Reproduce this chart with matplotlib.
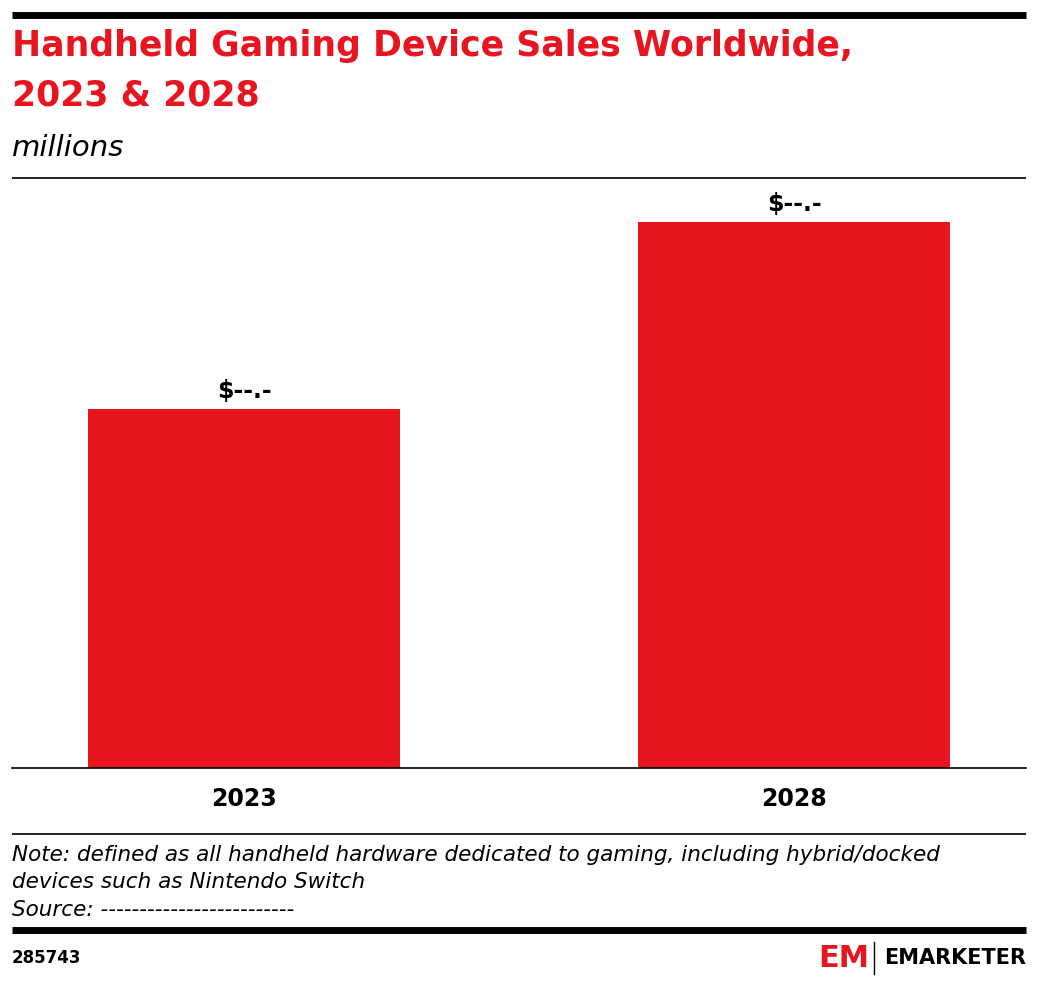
import matplotlib
matplotlib.use("Agg")
import matplotlib.pyplot as plt
from matplotlib.lines import Line2D

categories = ["2023", "2028"]
values = [359, 546]
labels = ["$--.-", "$--.-"]

W, H = 1038, 988
RED = "#e8141e"
fig = plt.figure(figsize=(W/100, H/100), dpi=100)
def fx(x): return x / W
def fy(y): return 1 - y / H

def hline(y, lw, x0=12, x1=1026):
    fig.add_artist(Line2D([fx(x0), fx(x1)], [fy(y), fy(y)], color="black", lw=lw,
                          solid_capstyle="butt"))

hline(15, 5)
fig.text(fx(12), fy(46), "Handheld Gaming Device Sales Worldwide,", color=RED,
         fontsize=25, fontweight="bold", va="center", ha="left")
fig.text(fx(12), fy(96), "2023 & 2028", color=RED,
         fontsize=25, fontweight="bold", va="center", ha="left")
fig.text(fx(12), fy(148), "millions", fontsize=21, style="italic", va="center")
hline(178, 1.2)

ax = fig.add_axes([fx(12), fy(768), fx(1026)-fx(12), fy(178)-fy(768)])
x = range(len(categories))
ax.bar(x, values, width=0.567, color=RED)
ax.set_xlim(-0.422, 1.422)
ax.set_ylim(0, 590)
for i, (v, l) in enumerate(zip(values, labels)):
    ax.text(i, v + 6, l, ha="center", va="bottom", fontsize=17, fontweight="bold")
for s in ["top", "left", "right"]:
    ax.spines[s].set_visible(False)
ax.spines["bottom"].set_linewidth(1.2)
ax.set_yticks([])
ax.set_xticks(list(x))
ax.set_xticklabels(categories, fontsize=17, fontweight="bold")
ax.tick_params(axis="x", length=0, pad=14)

hline(834, 1.2)
for y, t in [(855, "Note: defined as all handheld hardware dedicated to gaming, including hybrid/docked"),
             (882, "devices such as Nintendo Switch"),
             (910, "Source: -------------------------")]:
    fig.text(fx(12), fy(y), t, fontsize=15.5, style="italic", va="center")
hline(930, 5)
fig.text(fx(12), fy(958), "285743", fontsize=12, fontweight="bold", va="center")
fig.text(fx(818), fy(958), "EM", color=RED, fontsize=22, fontweight="bold", va="center")
fig.add_artist(Line2D([fx(874), fx(874)], [fy(942), fy(974)], color="black", lw=1))
fig.text(fx(1026), fy(958), "EMARKETER", fontsize=15, fontweight="bold", va="center", ha="right")

fig.savefig("out.png", dpi=100)
